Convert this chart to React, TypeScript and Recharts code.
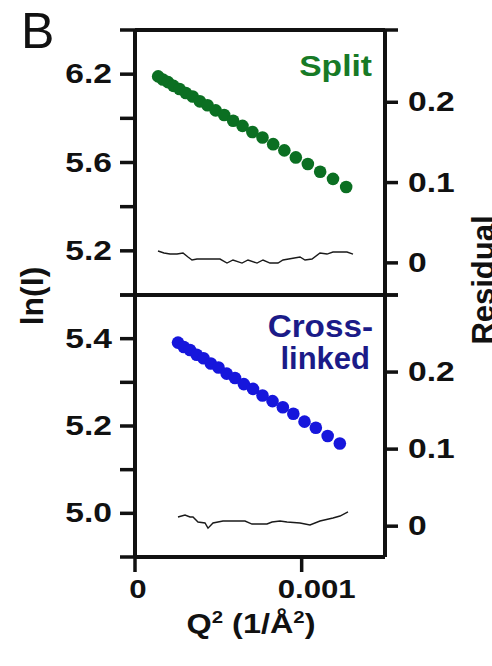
import { ComposedChart, Scatter, XAxis, YAxis } from "recharts";

// Guinier plot of the split construct: Q² (1/Å²) vs ln(I), plus fit residuals
const SPLIT_Q2 = [
  0.000139, 0.000167, 0.000198, 0.000231, 0.000267, 0.000305, 0.000346, 0.000389,
  0.000435, 0.000484, 0.000535, 0.000589, 0.000645, 0.000704, 0.000765, 0.000829,
  0.000896, 0.000965, 0.001037, 0.001111, 0.001188, 0.001267,
];
const SPLIT_LNI = [
  5.99, 5.976, 5.964, 5.947, 5.933, 5.915, 5.899, 5.877, 5.859, 5.836, 5.815, 5.789,
  5.766, 5.738, 5.713, 5.683, 5.655, 5.623, 5.593, 5.558, 5.526, 5.489,
];
const SPLIT_RES_Q2 = [
  0.000138, 0.000174, 0.00021, 0.000252, 0.000288, 0.000318, 0.000342, 0.000372,
  0.00045, 0.00051, 0.000552, 0.000588, 0.000642, 0.000678, 0.000732, 0.000768,
  0.00081, 0.000858, 0.000888, 0.00099, 0.00102, 0.001062, 0.00111, 0.001152,
  0.001188, 0.001272, 0.001308,
];
const SPLIT_RES = [
  0.0148, 0.0123, 0.011, 0.011, 0.0123, 0.0073, 0.0036, 0.0048, 0.0048, 0.0048,
  -0.0002, 0.0036, -0.0002, 0.0036, -0.0002, 0.0036, -0.0002, -0.0002, 0.0036,
  0.0073, 0.0036, 0.0048, 0.0123, 0.011, 0.0135, 0.0135, 0.011,
];

// Cross-linked construct
const XL_Q2 = [
  0.000258, 0.000293, 0.00033, 0.00037, 0.000411, 0.000455, 0.000501, 0.00055,
  0.0006, 0.000653, 0.000708, 0.000765, 0.000825, 0.000887, 0.00095, 0.001017,
  0.001085, 0.001156, 0.001229,
];
const XL_LNI = [
  5.391, 5.381, 5.374, 5.363, 5.355, 5.343, 5.334, 5.32, 5.31, 5.296, 5.285, 5.27,
  5.257, 5.243, 5.228, 5.21, 5.196, 5.177, 5.16,
];
const XL_RES_Q2 = [
  0.000258, 0.0003, 0.00033, 0.000348, 0.000378, 0.00042, 0.000438, 0.000468,
  0.000528, 0.00066, 0.000702, 0.000792, 0.000822, 0.00087, 0.000912, 0.00099,
  0.00105, 0.00111, 0.001188, 0.00123, 0.001278,
];
const XL_RES = [
  0.0119, 0.0145, 0.0119, 0.0119, 0.0054, 0.0041, -0.0026, 0.0041, 0.0067, 0.0067,
  0.0028, 0.0028, 0.0054, 0.0067, 0.0054, 0.0041, 0.0015, 0.0067, 0.0106, 0.0132,
  0.0184,
];

// Axis ticks and their printed labels ("" = unlabeled tick)
const X_TICKS = [0, 0.001];
const X_LABELS = ["0", "0.001"];
const SPLIT_LNI_TICKS = [5.0, 5.2, 5.4, 5.6, 5.8, 6.0, 6.2];
const SPLIT_LNI_LABELS = ["", "5.2", "", "5.6", "", "6.2", ""];
const SPLIT_RES_TICKS = [-0.04, 0, 0.1, 0.2, 0.29];
const SPLIT_RES_LABELS = ["", "0", "0.1", "0.2", ""];
const XL_LNI_TICKS = [4.9, 5.0, 5.1, 5.2, 5.3, 5.4, 5.5];
const XL_LNI_LABELS = ["", "5.0", "", "5.2", "", "5.4", ""];
const XL_RES_TICKS = [0, 0.1, 0.2, 0.3];
const XL_RES_LABELS = ["0", "0.1", "0.2", ""];

const splitPts = SPLIT_Q2.map((q, i) => ({ q, v: SPLIT_LNI[i] }));
const splitRes = SPLIT_RES_Q2.map((q, i) => ({ q, r: SPLIT_RES[i] }));
const xlPts = XL_Q2.map((q, i) => ({ q, v: XL_LNI[i] }));
const xlRes = XL_RES_Q2.map((q, i) => ({ q, r: XL_RES[i] }));

const FONT = '"Liberation Sans", Arial, Helvetica, sans-serif';
const INK = "#111";
const AXIS = { stroke: INK, strokeWidth: 4 };
const TICK_LINE = { stroke: INK, strokeWidth: 3.5 };
const GREEN = "#0b6f22";
const BLUE = "#1616dc";

function makeTick(values: number[], labels: string[], side: "left" | "right" | "bottom") {
  return (props: any) => {
    const { x, y, payload } = props;
    const i = values.findIndex((v) => Math.abs(v - payload.value) < 1e-9);
    const label = i >= 0 ? labels[i] : "";
    if (!label) return <g />;
    const anchor = side === "left" ? "end" : side === "right" ? "start" : "middle";
    const tx =
      side === "left" ? x - 6 : side === "right" ? x + 8 : x + (payload.value > 0 ? 15 : 3);
    const ty = side === "bottom" ? y + 24 : y + 9;
    return (
      <text
        transform={`translate(${tx},${ty}) scale(1.2,1)`}
        textAnchor={anchor}
        fontFamily={FONT}
        fontWeight={700}
        fontSize={side === "bottom" ? 26 : 28}
        fill={INK}
      >
        {label}
      </text>
    );
  };
}

const dot = (fill: string, r: number) => (p: any) =>
  <circle cx={p.cx} cy={p.cy} r={r} fill={fill} />;

const noDot = () => <g />;

function Panel(props: {
  height: number;
  margin: { top: number; right: number; bottom: number; left: number };
  pts: { q: number; v: number }[];
  res: { q: number; r: number }[];
  color: string;
  lniDomain: [number, number];
  lniTicks: number[];
  lniLabels: string[];
  resDomain: [number, number];
  resTicks: number[];
  resLabels: string[];
  showX: boolean;
}) {
  const p = props;
  return (
    <ComposedChart width={492} height={p.height} margin={p.margin}>
      <XAxis
        xAxisId="b"
        type="number"
        dataKey="q"
        domain={[0, 0.0015]}
        allowDataOverflow
        ticks={X_TICKS}
        interval={0}
        axisLine={AXIS}
        tickLine={p.showX ? TICK_LINE : false}
        tickSize={15}
        tick={p.showX ? makeTick(X_TICKS, X_LABELS, "bottom") : false}
        height={p.showX ? 60 : 1}
      />
      <XAxis
        xAxisId="t"
        orientation="top"
        type="number"
        dataKey="q"
        domain={[0, 0.0015]}
        allowDataOverflow
        axisLine={AXIS}
        tickLine={false}
        tick={false}
        height={1}
      />
      <YAxis
        yAxisId="l"
        type="number"
        dataKey="v"
        domain={p.lniDomain}
        allowDataOverflow
        ticks={p.lniTicks}
        interval={0}
        axisLine={AXIS}
        tickLine={TICK_LINE}
        tickSize={15}
        tick={makeTick(p.lniTicks, p.lniLabels, "left")}
        width={100}
      />
      <YAxis
        yAxisId="r"
        orientation="right"
        type="number"
        dataKey="r"
        domain={p.resDomain}
        allowDataOverflow
        ticks={p.resTicks}
        interval={0}
        axisLine={AXIS}
        tickLine={TICK_LINE}
        tickSize={13}
        tick={makeTick(p.resTicks, p.resLabels, "right")}
        width={100}
      />
      <Scatter
        xAxisId="b"
        yAxisId="r"
        data={p.res}
        line={{ stroke: "#1a1a1a", strokeWidth: 1.4 }}
        lineType="joint"
        shape={noDot}
        isAnimationActive={false}
      />
      <Scatter
        xAxisId="b"
        yAxisId="l"
        data={p.pts}
        shape={dot(p.color, 6.3)}
        isAnimationActive={false}
      />
    </ComposedChart>
  );
}

export default function App() {
  return (
    <div
      style={{
        position: "absolute",
        left: 0,
        top: 0,
        width: 492,
        height: 666,
        overflow: "hidden",
        background: "#fff",
        fontFamily: FONT,
      }}
    >
      <div style={{ position: "absolute", left: 0, top: 0 }}>
        <Panel
          height={300}
          margin={{ top: 29, right: 7, bottom: 4, left: 35 }}
          pts={splitPts}
          res={splitRes}
          color={GREEN}
          lniDomain={[5.0, 6.2]}
          lniTicks={SPLIT_LNI_TICKS}
          lniLabels={SPLIT_LNI_LABELS}
          resDomain={[-0.04, 0.29]}
          resTicks={SPLIT_RES_TICKS}
          resLabels={SPLIT_RES_LABELS}
          showX={false}
        />
      </div>
      <div style={{ position: "absolute", left: 0, top: 290 }}>
        <Panel
          height={376}
          margin={{ top: 4, right: 7, bottom: 49, left: 35 }}
          pts={xlPts}
          res={xlRes}
          color={BLUE}
          lniDomain={[4.9, 5.5]}
          lniTicks={XL_LNI_TICKS}
          lniLabels={XL_LNI_LABELS}
          resDomain={[-0.04, 0.3]}
          resTicks={XL_RES_TICKS}
          resLabels={XL_RES_LABELS}
          showX
        />
      </div>
      <svg
        width={492}
        height={666}
        style={{ position: "absolute", left: 0, top: 0, pointerEvents: "none" }}
      >
        <text x={21} y={48} fontFamily={FONT} fontSize={50} fill={INK}>
          B
        </text>
        <text
          transform="translate(43,296) rotate(-90)"
          textAnchor="middle"
          fontFamily={FONT}
          fontWeight={700}
          fontSize={32}
          fill={INK}
        >
          ln(I)
        </text>
        <text
          transform="translate(494,280) rotate(-90)"
          textAnchor="middle"
          fontFamily={FONT}
          fontWeight={700}
          fontSize={31}
          fill={INK}
        >
          Residual
        </text>
        <text
          transform="translate(372,76) scale(1.12,1)"
          textAnchor="end"
          fontFamily={FONT}
          fontWeight={700}
          fontSize={30}
          fill="#177a26"
        >
          Split
        </text>
        <text
          transform="translate(373,337) scale(1.04,1)"
          textAnchor="end"
          fontFamily={FONT}
          fontWeight={700}
          fontSize={32}
          fill="#1b1b88"
        >
          Cross-
        </text>
        <text
          transform="translate(370,369) scale(1.0,1)"
          textAnchor="end"
          fontFamily={FONT}
          fontWeight={700}
          fontSize={31}
          fill="#1b1b88"
        >
          linked
        </text>
        <text
          transform="translate(251,633) scale(1.2,1)"
          textAnchor="middle"
          fontFamily={FONT}
          fontWeight={700}
          fontSize={27}
          fill={INK}
        >
          Q<tspan dy={-10} fontSize={17}>2</tspan>
          <tspan dy={10}> (1/Å</tspan>
          <tspan dy={-10} fontSize={17}>2</tspan>
          <tspan dy={10}>)</tspan>
        </text>
      </svg>
    </div>
  );
}
